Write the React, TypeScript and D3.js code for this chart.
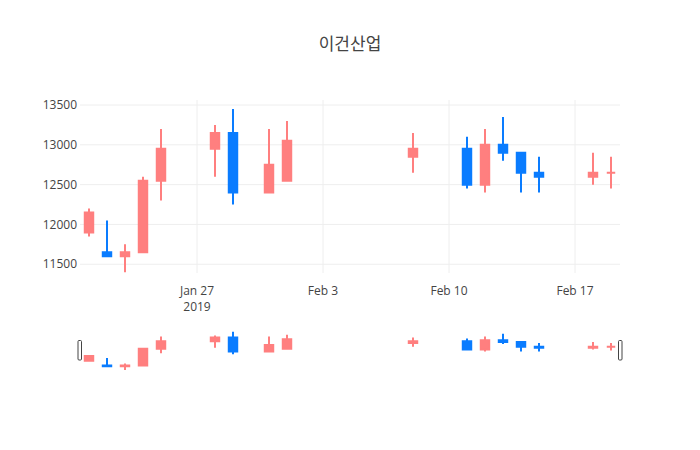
import React from 'react';
import * as d3 from 'd3';

const dates = [
  '2019-01-21', '2019-01-22', '2019-01-23', '2019-01-24', '2019-01-25',
  '2019-01-28', '2019-01-29', '2019-01-31', '2019-02-01', '2019-02-08',
  '2019-02-11', '2019-02-12', '2019-02-13', '2019-02-14', '2019-02-15',
  '2019-02-18', '2019-02-19',
];
const opens = [11900, 11650, 11600, 11650, 12550, 12950, 13150, 12400, 12550, 12850, 12950, 12500, 13000, 12900, 12650, 12600, 12650];
const highs = [12200, 12050, 11750, 12600, 13200, 13250, 13450, 13200, 13300, 13150, 13100, 13200, 13350, 12900, 12850, 12900, 12850];
const lows = [11850, 11600, 11400, 11650, 12300, 12600, 12250, 12400, 12550, 12650, 12450, 12400, 12800, 12400, 12400, 12500, 12450];
const closes = [12150, 11600, 11650, 12550, 12950, 13150, 12400, 12750, 13050, 12950, 12500, 13000, 12900, 12650, 12600, 12650, 12650];

const title = '이건산업';
const upColor = '#ff7f7f';
const downColor = '#0a7cff';
const font = '"Open Sans", "Noto Sans CJK KR", verdana, arial, sans-serif';

const W = 700;
const H = 450;
const plot = { left: 80, right: 620, top: 100, bottom: 273 };
const slider = { top: 329.75, bottom: 370.25 };

const parse = d3.utcParse('%Y-%m-%d');
const rows = dates.map((d, i) => ({
  date: parse(d) as Date,
  open: opens[i],
  high: highs[i],
  low: lows[i],
  close: closes[i],
}));

const App: React.FC = () => {
  const day = 24 * 3600 * 1000;
  const x0 = rows[0].date.getTime() - day / 2;
  const x1 = rows[rows.length - 1].date.getTime() + day / 2;
  const x = d3.scaleUtc().domain([new Date(x0), new Date(x1)]).range([plot.left, plot.right]);
  const y = d3.scaleLinear().domain([11390, 13563]).range([plot.bottom, plot.top]);
  const ys = d3.scaleLinear().domain(y.domain()).range([slider.bottom, slider.top]);

  const bodyW = (x(new Date(x0 + day)) - x(new Date(x0))) * 0.47;
  const xTicks = x.ticks(d3.utcWeek.every(1) as any);
  const yTicks = y.ticks(5);
  const fmt = d3.utcFormat('%b %-d');

  // body + wicks as one path, like plotly does, so flat bodies still show
  const candles = (sy: d3.ScaleLinear<number, number>) =>
    rows.map((r, i) => {
      const cx = x(r.date);
      const col = r.close >= r.open ? upColor : downColor;
      const top = sy(Math.max(r.open, r.close));
      const bot = sy(Math.min(r.open, r.close));
      const p = d3.path();
      p.moveTo(cx - bodyW / 2, top);
      p.lineTo(cx + bodyW / 2, top);
      p.lineTo(cx + bodyW / 2, bot);
      p.lineTo(cx - bodyW / 2, bot);
      p.closePath();
      p.moveTo(cx, top);
      p.lineTo(cx, sy(r.high));
      p.moveTo(cx, bot);
      p.lineTo(cx, sy(r.low));
      return <path key={i} d={p.toString()} fill={col} stroke={col} strokeWidth={2} />;
    });

  return (
    <svg width={W} height={H} style={{ position: 'absolute', left: 0, top: 0, background: '#fff' }} fontFamily={font}>
      <rect width={W} height={H} fill="#fff" />
      <text x={W / 2} y={50} textAnchor="middle" fontSize={17} fill="#444">{title}</text>

      {/* grid */}
      {yTicks.map((t) => (
        <g key={'y' + t}>
          <line x1={plot.left} x2={plot.right} y1={y(t)} y2={y(t)} stroke="#eee" strokeWidth={1} />
          <text x={plot.left - 3} y={y(t)} dy="0.35em" textAnchor="end" fontSize={12} fill="#444">{t}</text>
        </g>
      ))}
      {xTicks.map((t, i) => (
        <g key={'x' + i}>
          <line x1={x(t)} x2={x(t)} y1={plot.top} y2={plot.bottom} stroke="#eee" strokeWidth={1} />
          <text x={x(t)} y={295} textAnchor="middle" fontSize={12} fill="#444">{fmt(t)}</text>
          {i === 0 && (
            <text x={x(t)} y={311} textAnchor="middle" fontSize={12} fill="#444">{d3.utcFormat('%Y')(t)}</text>
          )}
        </g>
      ))}

      {candles(y)}

      {/* range slider */}
      <rect x={plot.left} y={slider.top} width={plot.right - plot.left} height={slider.bottom - slider.top} fill="#fff" />
      {candles(ys)}
      <rect x={plot.left - 2} y={340.5} width={3.5} height={19.5} rx={1} fill="#fff" stroke="#444" strokeWidth={1} />
      <rect x={plot.right - 1.5} y={340.5} width={3.5} height={19.5} rx={1} fill="#fff" stroke="#444" strokeWidth={1} />
    </svg>
  );
};

export default App;
